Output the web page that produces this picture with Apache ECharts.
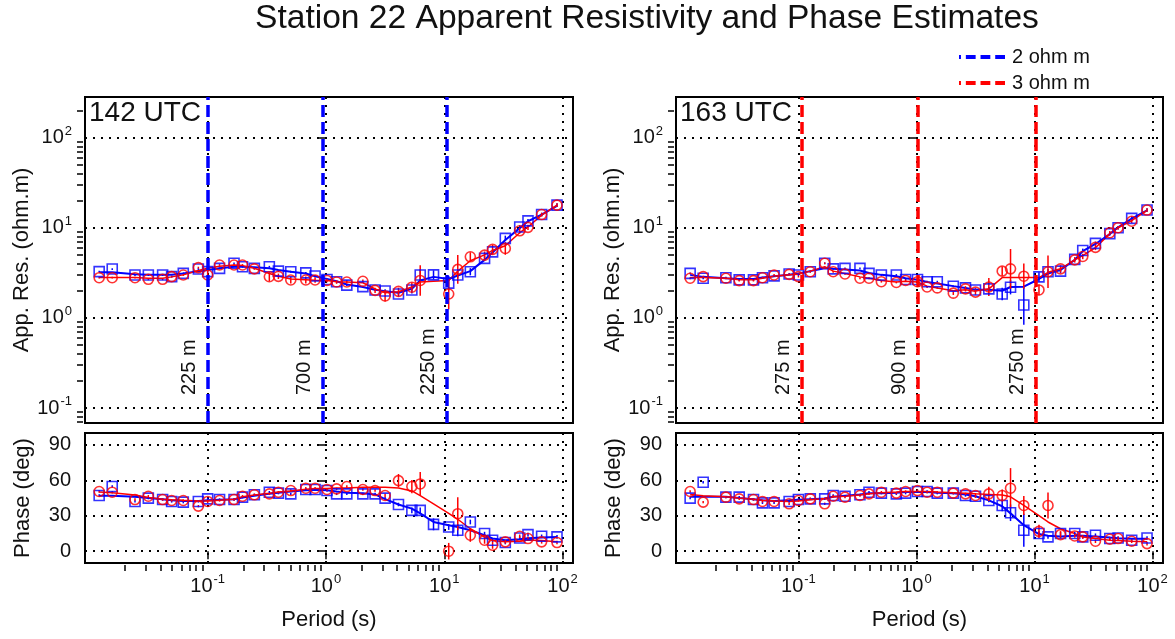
<!DOCTYPE html>
<html><head><meta charset="utf-8">
<script src="https://cdn.jsdelivr.net/npm/echarts@6/dist/echarts.min.js"></script>
<style>html,body{margin:0;padding:0;background:#fff}#c{width:1175px;height:639px}</style>
</head><body><div id="c"></div><script>
// ---------- data ----------
const periods = [0.0121,0.0156,0.0243,0.0315,0.0416,0.0496,0.0622,0.0834,0.100,0.126,0.167,0.197,0.248,0.332,0.396,0.504,0.675,0.809,1.02,1.23,1.50,2.05,2.60,3.16,4.10,5.32,6.26,8.11,10.9,13.0,16.6,21.9,25.6,32.8,43.4,51.0,66.5,89.7];

// 142 UTC (left)
const rhoBlueL = [3.26,3.48,2.99,2.99,2.99,2.87,3.12,3.48,3.26,3.54,4.03,3.69,3.54,3.69,3.30,3.25,3.16,2.91,2.67,2.52,2.31,2.22,2.04,1.99,1.84,2.04,2.99,3.00,2.43,2.99,3.25,4.57,5.40,7.62,10.2,11.9,14.0,17.8];
const rhoRedL  = [2.79,2.79,2.79,2.68,2.68,2.87,2.99,3.61,2.99,3.86,3.86,3.86,3.50,2.86,2.89,2.63,2.63,2.63,2.60,2.50,2.50,2.55,2.02,1.75,1.97,2.19,2.60,null,1.84,3.45,4.76,4.97,5.75,5.89,9.25,10.1,14.0,17.8];
const rhoErrBlueL = [0.01,0.01,0.01,0.01,0.01,0.01,0.01,0.01,0.01,0.01,0.01,0.01,0.01,0.01,0.01,0.01,0.01,0.01,0.01,0.01,0.01,0.01,0.01,0.02,0.03,0.04,0.06,0.05,0.08,0.04,0.04,0.03,0.03,0.03,0.02,0.02,0.02,0.02];
const rhoErrRedL  = [0.01,0.01,0.01,0.01,0.01,0.01,0.01,0.01,0.10,0.01,0.01,0.01,0.01,0.05,0.03,0.04,0.04,0.03,0.02,0.02,0.02,0.02,0.03,0.06,0.04,0.05,0.17,0.05,0.17,0.16,0.05,0.04,0.05,0.07,0.03,0.03,0.02,0.02];
const rhoModelBlueL = [3.2,3.2,3.05,3.0,3.0,3.0,3.1,3.3,3.4,3.55,3.7,3.7,3.65,3.55,3.4,3.25,3.1,2.9,2.7,2.55,2.35,2.2,2.05,1.98,1.9,2.1,2.6,2.85,2.7,2.95,3.3,4.4,5.3,7.3,9.9,11.8,14.0,17.5];
const rhoModelRedL  = [2.8,2.8,2.8,2.75,2.75,2.85,3.0,3.35,3.55,3.75,3.85,3.8,3.55,3.1,2.9,2.7,2.65,2.62,2.6,2.52,2.5,2.45,2.1,1.9,1.95,2.2,2.5,2.55,2.6,3.3,4.3,5.0,5.6,6.3,8.8,10.2,13.8,17.8];
const phBlueL = [47.1,54.7,42.1,44.9,43.7,42.1,41.5,42.1,44.3,43.7,43.7,45.7,47.7,49.9,49.1,48.5,52.2,52.2,51.3,48.5,48.5,48.5,48.5,44.9,39.5,34.5,34.5,22.7,20.5,17.7,24.7,14.9,9.3,7.3,11.2,14.0,12.6,12.1];
const phRedL  = [50.5,49.9,43.7,46.5,43.7,42.9,42.9,38.1,42.1,42.9,43.7,46.5,47.7,48.5,49.9,51.3,53.3,53.3,52.2,52.7,54.7,52.2,51.3,47.1,59.7,54.7,56.9,null,0.0,31.7,13.5,9.3,5.0,7.9,12.6,10.7,7.9,7.3];
const phErrBlueL = [1,1,1,1,1,1,1,1,1,1,1,1,1,1,1,1,1,1,1,1,1,1,1,1,1.5,2.5,2.5,5,2.5,5,2,1.5,1.5,1.5,1.5,1.5,1.5,1.5];
const phErrRedL  = [1,1,1,1,1,1,1,1,1.5,1,1,1,1,1,1,1,1,1,1,1,1,1,1,1.5,5.6,5.6,10,0,7,14,5.6,3,3,1.5,1.5,1.5,1.5,1.5];
const phModelBlueL = [47,47,46,45,44,43,42.5,42.5,43,43.5,44,45.5,47,48.5,49.5,50.5,51.5,52,51.5,50.5,49.5,49,48,44,39.5,36,32,24.7,22,20.5,17.7,13.5,10.7,9.3,10,11,11.5,12];
const phModelRedL  = [50,49.5,47.5,45.5,44,43.5,43,42.5,42.5,43,44,46,47.5,49,50,51,52.5,53,53,53.5,53.5,54,54,54,53.5,51,47,40,32,27,19,12,9,8,8.5,9.5,9,8];

// 163 UTC (right)
const rhoBlueR = [3.12,2.75,2.79,2.64,2.64,2.79,2.92,3.07,2.99,3.25,4.03,3.50,3.54,3.54,3.12,2.99,2.99,2.67,2.67,2.52,2.52,2.24,2.15,2.04,2.10,1.84,2.19,1.39,2.85,3.25,3.30,4.46,5.60,6.70,8.60,10.0,12.7,15.7];
const rhoRedR  = [2.75,2.87,2.75,2.59,2.59,2.79,2.99,3.04,2.87,3.25,4.03,3.25,3.07,2.75,2.75,2.52,2.47,2.60,2.52,2.20,2.15,1.88,2.10,1.93,2.20,3.30,3.50,2.90,2.04,3.25,3.50,4.40,4.80,6.05,8.80,10.0,11.8,15.7];
const rhoErrBlueR = [0.01,0.01,0.01,0.01,0.01,0.01,0.01,0.01,0.01,0.01,0.01,0.01,0.01,0.01,0.01,0.01,0.01,0.01,0.01,0.01,0.01,0.01,0.01,0.02,0.02,0.07,0.08,0.22,0.05,0.03,0.02,0.02,0.02,0.02,0.02,0.02,0.02,0.02];
const rhoErrRedR  = [0.01,0.01,0.01,0.01,0.01,0.01,0.01,0.01,0.01,0.01,0.01,0.01,0.01,0.01,0.01,0.01,0.01,0.01,0.01,0.01,0.01,0.02,0.03,0.03,0.10,0.05,0.22,0.14,0.06,0.18,0.04,0.03,0.03,0.03,0.02,0.02,0.02,0.02];
const rhoModelBlueR = [3.0,2.85,2.75,2.7,2.7,2.8,2.9,3.0,3.1,3.3,3.55,3.5,3.45,3.35,3.15,3.0,2.9,2.75,2.65,2.5,2.4,2.25,2.15,2.05,2.05,2.0,2.2,2.22,2.7,3.1,3.4,4.4,5.5,6.6,8.5,10.1,12.6,15.6];
const rhoModelRedR  = [2.8,2.8,2.75,2.65,2.65,2.75,2.9,3.0,3.05,3.3,3.7,3.3,3.1,2.85,2.75,2.6,2.5,2.55,2.5,2.25,2.15,2.0,2.05,1.98,2.1,2.8,2.8,2.8,2.8,3.2,3.5,4.4,4.9,6.0,8.6,10.0,12.0,15.6];
const phBlueR = [44.9,58.3,45.7,45.7,43.7,40.9,40.9,42.1,43.7,44.3,44.3,47.1,46.5,47.7,49.9,49.1,48.5,49.1,50.5,50.5,49.1,49.1,47.1,46.5,42.9,38.7,32.5,17.7,14.9,12.1,14.9,14.9,12.1,13.5,10.7,11.2,9.3,11.2];
const phRedR  = [50.5,41.5,45.7,44.3,43.7,42.1,42.1,40.1,42.9,44.3,40.1,46.5,45.7,47.1,48.5,49.9,49.1,50.5,51.3,49.9,49.9,49.1,48.5,47.1,48.5,47.1,53.3,38.7,16.8,38.7,14.0,12.9,12.1,8.4,10.1,10.7,8.4,6.4];
const phErrBlueR = [1,1,1,1,1,1,1,1,1,1,1,1,1,1,1,1,1,1,1,1,1,1,1,1,1.5,5,7,14,2,1.5,1.5,1.5,1.5,1.5,1.5,1.5,1.5,1.5];
const phErrRedR  = [1,1,1,1,1,1,1,1,1,1,1,1,1,1,1,1,1,1,1,1,1,1,1,2,6,5,17,8,5.6,11,3,1.5,1.5,1.5,1.5,1.5,1.5,1.5];
const phModelBlueR = [46,46,46,45,44,43,42.5,43,43.5,44,44.5,46,47,48,49,49,49.5,50,50,50,49.5,49,48,46.5,43,38,32,22,14.5,13,12.5,13,13,12.5,11.5,11,10.5,10.5];
const phModelRedR  = [48,47,46,45,44,43,42.5,42,42.5,43.5,44.5,46,46.5,47.5,48.5,49.5,50,50.5,50.5,50.5,50,49.5,49,48.5,48,47.5,46,38.7,30,24.7,19,14.9,12,10.7,9.3,9,8.4,7.9];

// depth marker lines
const depthPeriodsL = [0.100, 0.932, 10.5];
const depthLabelsL  = ['225 m', '700 m', '2250 m'];
const depthPeriodsR = [0.108, 1.03, 10.2];
const depthLabelsR  = ['275 m', '900 m', '2750 m'];

// ticks
const xTickExps = [-1, 0, 1, 2];
const rhoTickExps = [-1, 0, 1, 2];
const phaseTicks = [0, 30, 60, 90];
const minorMult = [2, 3, 4, 5, 6, 7, 8, 9];

// ---------- layout / styles ----------
const FONT = '"Liberation Sans", Arial, Helvetica, sans-serif';
const X_RANGE = [-2.037, 2.088];
const RHO_RANGE = [-1.166, 2.45];
const PH_RANGE = [-10, 100];
const BLUE = '#0000ff', RED = '#ff0000';
const DASH_ICON = 'path://M0,0h2v4h-2z M7,0h10v4h-10z M22,0h10v4h-10z M37,0h10v4h-10z';

function minorLogs(range) {
  const out = [];
  for (let n = -3; n <= 3; n++) for (const k of minorMult) {
    const v = Math.log10(k) + n;
    if (v > range[0] && v < range[1]) out.push(v);
  }
  return out;
}
const expRich = {
  b: {fontSize: 20, fontFamily: FONT, color: '#111'},
  s: {fontSize: 13, fontFamily: FONT, color: '#111', padding: [0, 0, 13, 1]}
};
const expFmt = v => '{b|10}{s|' + Math.round(v) + '}';
const dotted = {color: '#000', type: [2, 6], width: 2};

const grids = [
  {left: 85, top: 97, width: 488, height: 326},
  {left: 85, top: 433, width: 488, height: 130},
  {left: 676, top: 97, width: 487, height: 326},
  {left: 676, top: 433, width: 487, height: 130}
].map(g => Object.assign(g, {show: true, borderColor: '#000', borderWidth: 2, containLabel: false}));

const xAxes = [], yAxes = [];
function addX(grid, bottomPanel) {
  const idx = xAxes.length;
  xAxes.push({
    type: 'value', gridIndex: grid, min: X_RANGE[0], max: X_RANGE[1], position: 'bottom', offset: 2,
    axisLine: {show: false},
    axisTick: {show: bottomPanel, length: 8, customValues: xTickExps, lineStyle: {color: '#000', width: 1.5}},
    axisLabel: {show: bottomPanel, customValues: xTickExps, formatter: expFmt, rich: expRich, margin: 8},
    splitLine: {show: true, lineStyle: dotted},
    name: bottomPanel ? 'Period (s)' : '', nameLocation: 'middle', nameGap: 44,
    nameTextStyle: {fontSize: 22, fontFamily: FONT, color: '#111'}
  });
  if (bottomPanel) {
    xAxes.push({
      type: 'value', gridIndex: grid, min: X_RANGE[0], max: X_RANGE[1], position: 'bottom', offset: 2,
      axisLine: {show: false},
      axisTick: {show: true, length: 6, customValues: minorLogs(X_RANGE), lineStyle: {color: '#000', width: 1.5}},
      axisLabel: {show: false}, splitLine: {show: false}
    });
  }
  return idx;
}
function addYRho(grid) {
  const idx = yAxes.length;
  yAxes.push({
    type: 'value', gridIndex: grid, min: RHO_RANGE[0], max: RHO_RANGE[1], position: 'left', offset: 2,
    axisLine: {show: false},
    axisTick: {show: true, length: 8, customValues: rhoTickExps, lineStyle: {color: '#000', width: 1.5}},
    axisLabel: {show: true, customValues: rhoTickExps, formatter: expFmt, rich: expRich, margin: 11},
    splitLine: {show: true, lineStyle: dotted},
    name: 'App. Res. (ohm.m)', nameLocation: 'middle', nameGap: 49,
    nameTextStyle: {fontSize: 22, fontFamily: FONT, color: '#111'}
  });
  yAxes.push({
    type: 'value', gridIndex: grid, min: RHO_RANGE[0], max: RHO_RANGE[1], position: 'left', offset: 2,
    axisLine: {show: false},
    axisTick: {show: true, length: 6, customValues: minorLogs(RHO_RANGE), lineStyle: {color: '#000', width: 1.5}},
    axisLabel: {show: false}, splitLine: {show: false}
  });
  return idx;
}
function addYPh(grid) {
  const idx = yAxes.length;
  yAxes.push({
    type: 'value', gridIndex: grid, min: PH_RANGE[0], max: PH_RANGE[1], position: 'left', offset: 2,
    axisLine: {show: false},
    axisTick: {show: true, length: 8, customValues: phaseTicks, lineStyle: {color: '#000', width: 1.5}},
    axisLabel: {show: true, customValues: phaseTicks, fontSize: 20, fontFamily: FONT, color: '#111', margin: 12},
    splitLine: {show: true, lineStyle: dotted},
    name: 'Phase (deg)', nameLocation: 'middle', nameGap: 49,
    nameTextStyle: {fontSize: 22, fontFamily: FONT, color: '#111'}
  });
  return idx;
}

const series = [];
const lx = v => Math.log10(v);
function pts(vals, logY) {
  const out = [];
  vals.forEach((v, i) => { if (v != null) out.push([lx(periods[i]), logY ? lx(v) : v]); });
  return out;
}
function errPts(vals, errs, logY) {
  const out = [];
  vals.forEach((v, i) => {
    if (v == null || !errs[i]) return;
    const c = logY ? lx(v) : v;
    out.push([lx(periods[i]), c - errs[i], c + errs[i]]);
  });
  return out;
}
function errRender(params, api) {
  const x = api.value(0);
  const p1 = api.coord([x, api.value(1)]), p2 = api.coord([x, api.value(2)]);
  return {type: 'line', shape: {x1: p1[0], y1: p1[1], x2: p2[0], y2: p2[1]},
          style: {stroke: api.visual('color'), lineWidth: 1.5}};
}
function addPanel(xi, yi, blue, red, errB, errR, modB, modR, logY) {
  series.push({type: 'line', xAxisIndex: xi, yAxisIndex: yi, data: pts(modB, logY), showSymbol: false,
    lineStyle: {color: BLUE, width: 2}, itemStyle: {color: BLUE}, silent: true, z: 2});
  series.push({type: 'line', xAxisIndex: xi, yAxisIndex: yi, data: pts(modR, logY), showSymbol: false,
    lineStyle: {color: RED, width: 1.5}, itemStyle: {color: RED}, silent: true, z: 2});
  series.push({type: 'custom', xAxisIndex: xi, yAxisIndex: yi, data: errPts(blue, errB, logY),
    renderItem: errRender, itemStyle: {color: BLUE}, encode: {x: 0, y: [1, 2]}, silent: true, z: 3});
  series.push({type: 'custom', xAxisIndex: xi, yAxisIndex: yi, data: errPts(red, errR, logY),
    renderItem: errRender, itemStyle: {color: RED}, encode: {x: 0, y: [1, 2]}, silent: true, z: 3});
  series.push({type: 'scatter', xAxisIndex: xi, yAxisIndex: yi, data: pts(blue, logY), symbol: 'rect', symbolSize: 10,
    itemStyle: {color: 'rgba(0,0,0,0)', borderColor: BLUE, borderWidth: 1.6}, silent: true, z: 4});
  series.push({type: 'scatter', xAxisIndex: xi, yAxisIndex: yi, data: pts(red, logY), symbol: 'circle', symbolSize: 10,
    itemStyle: {color: 'rgba(0,0,0,0)', borderColor: RED, borderWidth: 1.6}, silent: true, z: 4});
}
function addDepthLines(name, xi, yi, color, ps, labels) {
  series.push({
    name: name, type: 'line', xAxisIndex: xi, yAxisIndex: yi, data: [], showSymbol: false, symbol: 'none',
    lineStyle: {color: color, type: [10, 5], width: 4}, itemStyle: {color: color}, z: 6,
    markLine: {
      symbol: 'none', silent: true, animation: false,
      lineStyle: {color: color, type: [12, 5], width: 3.5},
      label: {show: true, position: 'insideStartTop', distance: [28, 8], fontSize: 20, fontFamily: FONT, color: '#111'},
      data: ps.map((p, i) => ({xAxis: lx(p), label: {formatter: labels[i]}}))
    }
  });
}

// left column
const xTL = addX(0, false), yTL = addYRho(0);
const xBL = addX(1, true),  yBL = addYPh(1);
// right column
const xTR = addX(2, false), yTR = addYRho(2);
const xBR = addX(3, true),  yBR = addYPh(3);

addPanel(xTL, yTL, rhoBlueL, rhoRedL, rhoErrBlueL, rhoErrRedL, rhoModelBlueL, rhoModelRedL, true);
addPanel(xBL, yBL, phBlueL, phRedL, phErrBlueL, phErrRedL, phModelBlueL, phModelRedL, false);
addPanel(xTR, yTR, rhoBlueR, rhoRedR, rhoErrBlueR, rhoErrRedR, rhoModelBlueR, rhoModelRedR, true);
addPanel(xBR, yBR, phBlueR, phRedR, phErrBlueR, phErrRedR, phModelBlueR, phModelRedR, false);
addDepthLines('2 ohm m', xTL, yTL, BLUE, depthPeriodsL, depthLabelsL);
addDepthLines('3 ohm m', xTR, yTR, RED, depthPeriodsR, depthLabelsR);

const option = {
  animation: false,
  backgroundColor: '#fff',
  title: [
    {text: 'Station 22 Apparent Resistivity and Phase Estimates', left: 255, top: 2, padding: 0,
     textStyle: {fontSize: 33.6, fontWeight: 'normal', fontFamily: FONT, color: '#111'}},
    {text: '142 UTC', left: 89, top: 99, padding: 0,
     textStyle: {fontSize: 28, fontWeight: 'normal', fontFamily: FONT, color: '#111'}},
    {text: '163 UTC', left: 680, top: 99, padding: 0,
     textStyle: {fontSize: 28, fontWeight: 'normal', fontFamily: FONT, color: '#111'}}
  ],
  legend: {
    data: [{name: '2 ohm m', icon: DASH_ICON}, {name: '3 ohm m', icon: DASH_ICON}],
    orient: 'vertical', left: 959, top: 47, padding: 0,
    itemWidth: 46, itemHeight: 4, itemGap: 6,
    textStyle: {fontSize: 20, fontFamily: FONT, color: '#111', padding: [0, 0, 0, 2]}
  },
  grid: grids,
  xAxis: xAxes,
  yAxis: yAxes,
  series: series
};
const chart = echarts.init(document.getElementById('c'), null, {renderer: 'canvas'});
chart.setOption(option);
</script></body></html>
